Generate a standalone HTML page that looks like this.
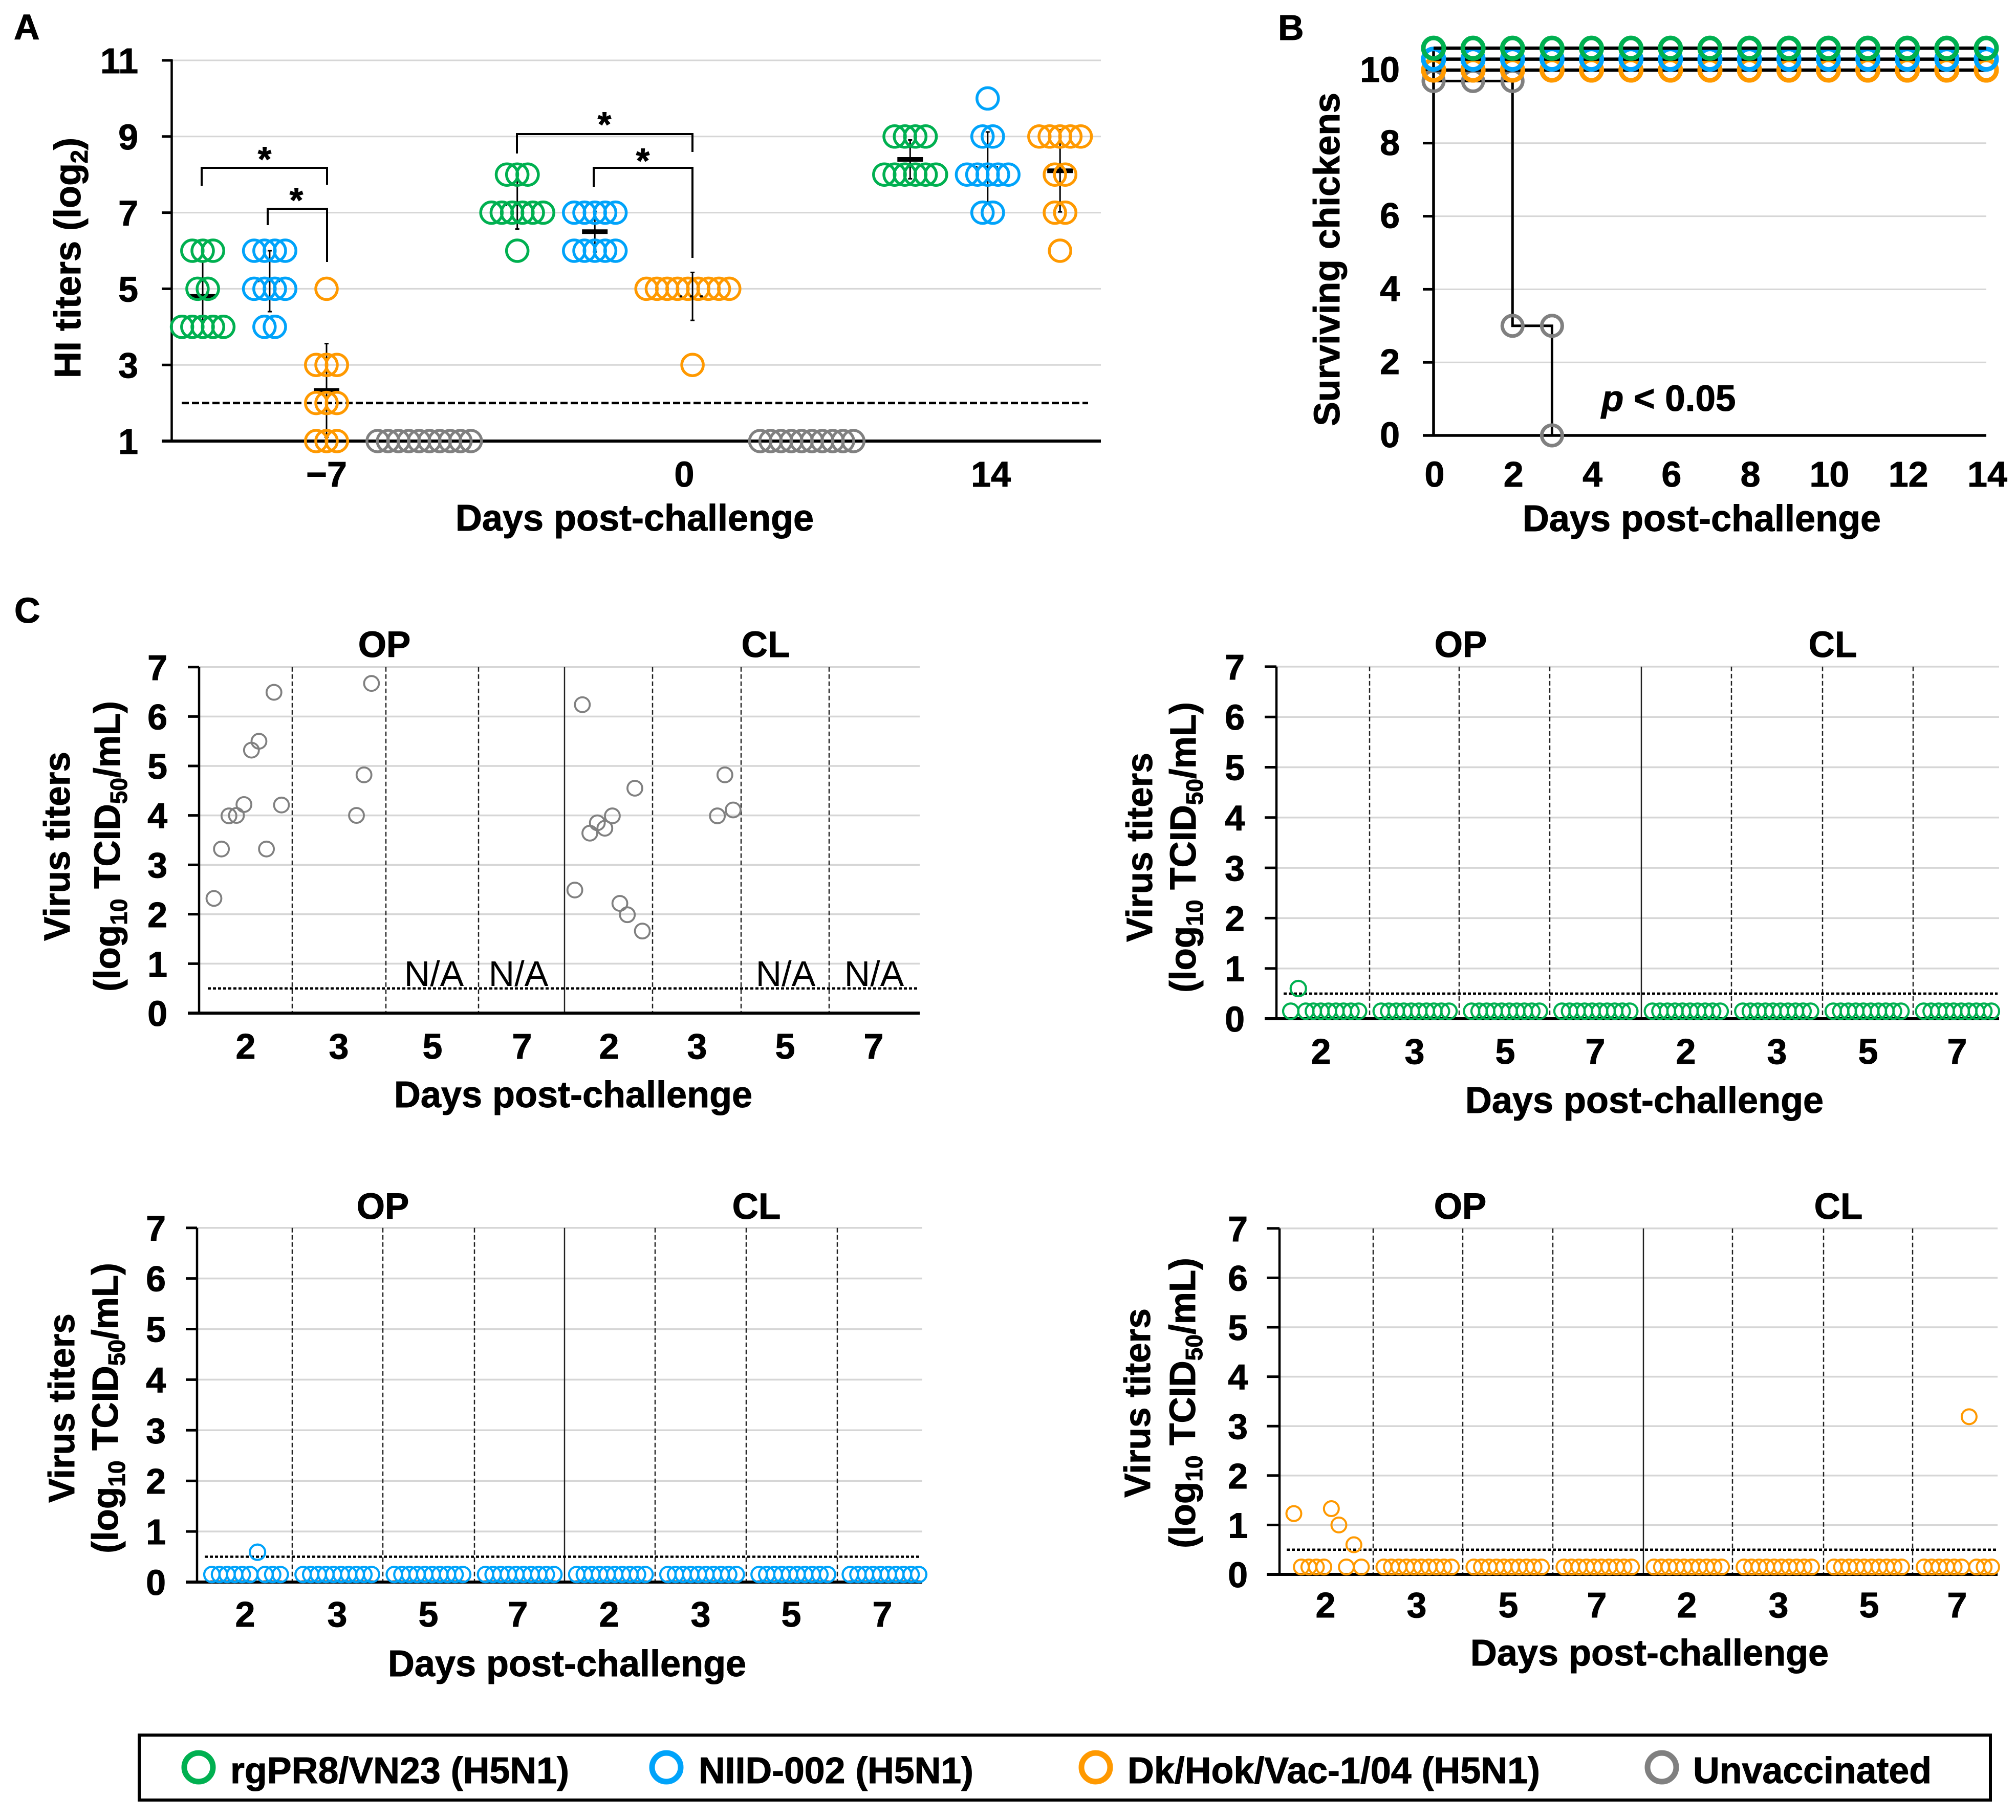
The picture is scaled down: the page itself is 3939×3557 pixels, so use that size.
<!DOCTYPE html>
<html lang="en">
<head>
<meta charset="utf-8">
<title>HI titers, survival and virus titers in chickens</title>
<style>
html,body{margin:0;padding:0;background:#fff;}
svg{display:block;font-family:"Liberation Sans",Arial,sans-serif;}
text[font-weight="bold"]{stroke:#000;stroke-width:1px;}
</style>
</head>
<body>
<svg id="figure" xmlns="http://www.w3.org/2000/svg" width="3939" height="3557" viewBox="0 0 3939 3557">
<rect width="3939" height="3557" fill="#ffffff"/>
</svg>
<script>
/* ---------- Panel A data: HI titers ---------- */
const hiTickLabels = [1, 3, 5, 7, 9, 11];
const hiDayLabels = ['\u22127', '0', '14'];
const hiDetectionLimit = 2;
const hiGroupSeries = ['green','blue','orange','gray','green','blue','orange','orange','gray','green','blue','orange'];
const hiGroupCenters = [3.07, 9.55, 15.05, 24.5, 33.5, 41, 50, 50.45, 61.5, 71.5, 79, 86];
const hiTiters = [
  [6,6,6,5,5,4,4,4,4,4],
  [6,6,6,6,5,5,5,5,4,4],
  [5,3,3,3,2,2,2,1,1,1],
  [1,1,1,1,1,1,1,1,1,1],
  [8,8,8,7,7,7,7,7,7,6],
  [7,7,7,7,7,6,6,6,6,6],
  [5,5,5,5,5,5,5,5,5],
  [3],
  [1,1,1,1,1,1,1,1,1,1],
  [9,9,9,9,8,8,8,8,8,8],
  [10,9,9,8,8,8,8,8,7,7],
  [9,9,9,9,9,8,8,7,7,6]
];
const hiMeans = [4.8, 5.2, 2.33, null, 7.2, 6.5, null, 4.8, null, 8.4, 8.2, 8.1];
const hiDeviations = [0.92, 0.8, 1.23, null, 0.63, 0.53, null, 0.63, null, 0.51, 0.92, 1.08];
const hiMeanCovered = [false, true, false, false, true, false, false, true, false, false, true, false];

/* ---------- Panel B data: survival ---------- */
const survivalDays = [0,1,2,3,4,5,6,7,8,9,10,11,12,13,14];
const survivalGreen = [10.6,10.6,10.6,10.6,10.6,10.6,10.6,10.6,10.6,10.6,10.6,10.6,10.6,10.6,10.6];
const survivalBlue = [10.3,10.3,10.3,10.3,10.3,10.3,10.3,10.3,10.3,10.3,10.3,10.3,10.3,10.3,10.3];
const survivalOrange = [10,10,10,10,10,10,10,10,10,10,10,10,10,10,10];
const survivalGrayDays = [0,1,2,2,3,3];
const survivalGray = [9.7,9.7,9.7,3,3,0];
const survivalTicksY = [0,2,4,6,8,10];
const survivalTicksX = [0,2,4,6,8,10,12,14];

/* ---------- Panel C data: virus titers ---------- */
const virusDayLabels = ['2','3','5','7','2','3','5','7'];
const virusTicksY = [0,1,2,3,4,5,6,7];
const virusLimit = 0.5;

const unvaccinatedSlots = [0,1,2,3,4,5,6,7,8,9, 19,20,21, 48.1,49.1,50.1,51.1,52.1,53.1,54.1,55.1,56.1,57.1, 67.1,68.1,69.2];
const unvaccinatedTiters = [2.32,3.32,3.99,4,4.22,5.32,5.5,3.32,6.49,4.21, 4,4.82,6.67, 2.49,6.24,3.64,3.85,3.74,3.99,2.22,1.99,4.55,1.66, 3.99,4.82,4.11];

const greenTiters = [
  [0.15,0.6,0.15,0.15,0.15,0.15,0.15,0.15,0.15,0.15],
  [0.15,0.15,0.15,0.15,0.15,0.15,0.15,0.15,0.15,0.15],
  [0.15,0.15,0.15,0.15,0.15,0.15,0.15,0.15,0.15,0.15],
  [0.15,0.15,0.15,0.15,0.15,0.15,0.15,0.15,0.15,0.15],
  [0.15,0.15,0.15,0.15,0.15,0.15,0.15,0.15,0.15,0.15],
  [0.15,0.15,0.15,0.15,0.15,0.15,0.15,0.15,0.15,0.15],
  [0.15,0.15,0.15,0.15,0.15,0.15,0.15,0.15,0.15,0.15],
  [0.15,0.15,0.15,0.15,0.15,0.15,0.15,0.15,0.15,0.15]
];
const blueTiters = [
  [0.15,0.15,0.15,0.15,0.15,0.15,0.59,0.15,0.15,0.15],
  [0.15,0.15,0.15,0.15,0.15,0.15,0.15,0.15,0.15,0.15],
  [0.15,0.15,0.15,0.15,0.15,0.15,0.15,0.15,0.15,0.15],
  [0.15,0.15,0.15,0.15,0.15,0.15,0.15,0.15,0.15,0.15],
  [0.15,0.15,0.15,0.15,0.15,0.15,0.15,0.15,0.15,0.15],
  [0.15,0.15,0.15,0.15,0.15,0.15,0.15,0.15,0.15,0.15],
  [0.15,0.15,0.15,0.15,0.15,0.15,0.15,0.15,0.15,0.15],
  [0.15,0.15,0.15,0.15,0.15,0.15,0.15,0.15,0.15,0.15]
];
const orangeTiters = [
  [1.23,0.15,0.15,0.15,0.15,1.33,1,0.15,0.6,0.15],
  [0.15,0.15,0.15,0.15,0.15,0.15,0.15,0.15,0.15,0.15],
  [0.15,0.15,0.15,0.15,0.15,0.15,0.15,0.15,0.15,0.15],
  [0.15,0.15,0.15,0.15,0.15,0.15,0.15,0.15,0.15,0.15],
  [0.15,0.15,0.15,0.15,0.15,0.15,0.15,0.15,0.15,0.15],
  [0.15,0.15,0.15,0.15,0.15,0.15,0.15,0.15,0.15,0.15],
  [0.15,0.15,0.15,0.15,0.15,0.15,0.15,0.15,0.15,0.15],
  [0.15,0.15,0.15,0.15,0.15,0.15,3.19,0.15,0.15,0.15]
];

/* ---------- Legend ---------- */
const legendLabels = ['rgPR8/VN23 (H5N1)','NIID-002 (H5N1)','Dk/Hok/Vac-1/04 (H5N1)','Unvaccinated'];
const legendSeries = ['green','blue','orange','gray'];

/* ---------- Rendering ---------- */
const SVGNS = 'http://www.w3.org/2000/svg';
const root = document.getElementById('figure');
const COLORS = {green:'#00B050', blue:'#00A3FA', orange:'#FF9900', gray:'#808080'};
const GRID = '#d6d6d6';
const TICK_SIZE = 70;
const TICK_DROP = 25;

function mk(tag, attrs, parent) {
  const el = document.createElementNS(SVGNS, tag);
  for (const k in attrs) el.setAttribute(k, attrs[k]);
  (parent || root).appendChild(el);
  return el;
}
function label(str, x, y, size, anchor, weight, parent) {
  const el = mk('text', {x:x, y:y, 'font-size':size, 'text-anchor':anchor || 'middle', 'font-weight':weight || 'bold', fill:'#000'}, parent);
  el.textContent = str;
  return el;
}
function subTitle(parent, x, y, size, before, sub, after) {
  const el = mk('text', {x:x, y:y, 'font-size':size, 'text-anchor':'middle', 'font-weight':'bold', fill:'#000', transform:'rotate(-90 '+x+' '+y+')'}, parent);
  const a = mk('tspan', {}, el); a.textContent = before;
  const s = mk('tspan', {'font-size':Math.round(size*0.65), dy:Math.round(size*0.2)}, el); s.textContent = sub;
  const b = mk('tspan', {dy:-Math.round(size*0.2)}, el); b.textContent = after;
  return el;
}

/* panel letters */
[['A',27,77],['B',2497,78],['C',28,1217]].forEach(function(p){
  const el = label(p[0], p[1], p[2], 70, 'start');
  
  
});

/* ===== Panel A ===== */
(function(){
  const g = mk('g', {});
  
  
  const y = v => 862 - (v - 1) * 74.4;
  const x = u => 334 + u * 20.2;
  const R = 21, SW = 5.5;

  hiTickLabels.forEach(function(t){
    if (t !== 1) {
      const gl = mk('line', {x1:336, x2:2151, y1:y(t), y2:y(t), stroke:GRID, 'stroke-width':3}, g);
      
      
    }
    const tk = mk('line', {x1:316, x2:336, y1:y(t), y2:y(t), stroke:'#000', 'stroke-width':5}, g);
    
    
    const tl = label(String(t), 270, y(t) + TICK_DROP, TICK_SIZE, 'end', 'bold', g);
    
    
  });
  const yAxis = mk('line', {x1:335.5, x2:335.5, y1:116, y2:862, stroke:'#000', 'stroke-width':4.5}, g);
  
  
  const xAxis = mk('line', {x1:316, x2:2151, y1:862, y2:862, stroke:'#000', 'stroke-width':6}, g);
  
  
  const lod = mk('line', {x1:355, x2:2126, y1:y(hiDetectionLimit), y2:y(hiDetectionLimit), stroke:'#000', 'stroke-width':5, 'stroke-dasharray':'14 6'}, g);
  
  

  hiGroupCenters.forEach(function(center, i){
    const cx = x(center);
    const m = hiMeans[i];
    if (m !== null) {
      const sd = hiDeviations[i];
      const eb = mk('line', {x1:cx, x2:cx, y1:y(m - sd), y2:y(m + sd), stroke:'#000', 'stroke-width':3}, g);
      
      
      const capA = mk('line', {x1:cx - 4, x2:cx + 4, y1:y(m + sd), y2:y(m + sd), stroke:'#000', 'stroke-width':3}, g);
      
      
      const capB = mk('line', {x1:cx - 4, x2:cx + 4, y1:y(m - sd), y2:y(m - sd), stroke:'#000', 'stroke-width':3}, g);
      
      
      const covered = hiMeanCovered[i];
      const mb = mk('line', {x1:cx - 25, x2:cx + 25, y1:y(m), y2:y(m), stroke:'#000', 'stroke-width': covered ? 4 : 9, 'stroke-dasharray': covered ? '5 15' : 'none'}, g);
      
      
    }
    const rows = {};
    hiTiters[i].forEach(v => { rows[v] = (rows[v] || 0) + 1; });
    Object.keys(rows).forEach(function(key){
      const v = Number(key), n = rows[key];
      for (let k = 0; k < n; k++) {
        const c = mk('circle', {cx:x(center + k - (n - 1) / 2), cy:y(v), r:R, fill:'none', stroke:COLORS[hiGroupSeries[i]], 'stroke-width':SW}, g);
        
        
      }
    });
  });

  [[638, 0],[1337, 1],[1936, 2]].forEach(function(p){
    const t = label(hiDayLabels[p[1]], p[0], 951, TICK_SIZE, 'middle', 'bold', g);
    
    
  });
  const xt = label('Days post-challenge', 1240, 1037, 72, 'middle', 'bold', g);
  
  
  const yt = subTitle(g, 157, 504, 72, 'HI titers (log', '2', ')');
  
  

  [[394,639,328,363,361,517,299],[523,639,408,440,512,579,379],[1010,1353,262,300,297,1181,231],[1160,1353,328,365,504,1256,302]].forEach(function(b, i){
    const br = mk('path', {d:'M'+b[0]+' '+b[3]+'V'+b[2]+'H'+b[1]+'V'+b[4], fill:'none', stroke:'#000', 'stroke-width':4}, g);
    
    
    const st = label('*', b[5], b[6] + 35, 68, 'middle', 'bold', g);
    
    
  });
})();

/* ===== Panel B ===== */
(function(){
  const g = mk('g', {});
  
  
  const x = d => 2801 + d * 77.14;
  const y = v => 851 - v * 71.4;

  survivalTicksY.forEach(function(t){
    if (t !== 0 && t !== 10) {
      const gl = mk('line', {x1:2801, x2:3881, y1:y(t), y2:y(t), stroke:GRID, 'stroke-width':3}, g);
      
      
    }
    const tk = mk('line', {x1:2780, x2:2801, y1:y(t), y2:y(t), stroke:'#000', 'stroke-width':5}, g);
    
    
    const tl = label(String(t), 2735, y(t) + TICK_DROP - 2, TICK_SIZE, 'end', 'bold', g);
    
    
  });
  survivalTicksX.forEach(function(t){
    const tl = label(String(t), x(t) + 2, 951, TICK_SIZE, 'middle', 'bold', g);
    
    
  });
  const xAxis = mk('line', {x1:2780, x2:3881, y1:y(0), y2:y(0), stroke:'#000', 'stroke-width':5.5}, g);
  
  
  const yAxis = mk('line', {x1:2801, x2:2801, y1:y(0), y2:97, stroke:'#000', 'stroke-width':5.5}, g);
  
  

  const grayPts = survivalGrayDays.map((d, i) => x(d) + ',' + y(survivalGray[i])).join(' ');
  const grayLine = mk('polyline', {points:grayPts, fill:'none', stroke:'#000', 'stroke-width':5}, g);
  
  
  survivalGrayDays.forEach(function(d, i){
    const c = mk('circle', {cx:x(d), cy:y(survivalGray[i]), r:20, fill:'none', stroke:COLORS.gray, 'stroke-width':7}, g);
    
    
  });
  [['orange', survivalOrange],['blue', survivalBlue],['green', survivalGreen]].forEach(function(s){
    const pts = survivalDays.map((d, i) => x(d) + ',' + y(s[1][i])).join(' ');
    const ln = mk('polyline', {points:pts, fill:'none', stroke:'#000', 'stroke-width':6.5}, g);
    
    
    survivalDays.forEach(function(d, i){
      const c = mk('circle', {cx:x(d), cy:y(s[1][i]), r:20, fill:'none', stroke:COLORS[s[0]], 'stroke-width':9}, g);
      
      
    });
  });

  const xt = label('Days post-challenge', 3325, 1038, 72, 'middle', 'bold', g);
  
  
  const yt = label('Surviving chickens', 2617, 507, 71.5, 'middle', 'bold', g);
  yt.setAttribute('transform', 'rotate(-90 2617 507)');
  
  
  const pv = mk('text', {x:3129, y:803, 'font-size':71, 'font-weight':'bold', fill:'#000'}, g);
  
  
  const pi = mk('tspan', {'font-style':'italic'}, pv); pi.textContent = 'p';
  const pr = mk('tspan', {}, pv); pr.textContent = ' < 0.05';
})();

/* ===== Panel C ===== */
function virusPanel(cfg) {
  const g = mk('g', {});
  
  
  const y = v => cfg.y0 - v * cfg.unit;
  const x = s => cfg.slot0 + s * cfg.step;

  virusTicksY.forEach(function(t){
    if (t !== 0) {
      const gl = mk('line', {x1:cfg.axisX, x2:cfg.right, y1:y(t), y2:y(t), stroke:GRID, 'stroke-width':3.5}, g);
      
      
    }
    const tk = mk('line', {x1:cfg.tickX, x2:cfg.axisX, y1:y(t), y2:y(t), stroke:'#000', 'stroke-width':5}, g);
    
    
    const tl = label(String(t), cfg.tickRight, y(t) + TICK_DROP, TICK_SIZE, 'end', 'bold', g);
    
    
  });
  cfg.dividers.forEach(function(dx, i){
    const solid = i === 3;
    const d = mk('line', {x1:dx, x2:dx, y1:y(7), y2:y(0), stroke:'#222', 'stroke-width': 2.5, 'stroke-dasharray': solid ? 'none' : '9 5'}, g);
    
    
  });
  const lod = mk('line', {x1:cfg.lodLeft, x2:cfg.lodRight, y1:y(virusLimit), y2:y(virusLimit), stroke:'#000', 'stroke-width':4.5, 'stroke-dasharray':'6 4'}, g);
  
  
  const yAxis = mk('line', {x1:cfg.axisX, x2:cfg.axisX, y1:y(7), y2:y(0), stroke:'#000', 'stroke-width':4.5}, g);
  
  
  const xAxis = mk('line', {x1:cfg.tickX, x2:cfg.right, y1:y(0), y2:y(0), stroke:'#000', 'stroke-width':6}, g);
  
  

  if (cfg.slots) {
    cfg.slots.forEach(function(s, i){
      const c = mk('circle', {cx:x(s), cy:y(cfg.values[i]), r:cfg.r, fill:'none', stroke:COLORS[cfg.series], 'stroke-width':cfg.sw}, g);
      
      
    });
  } else {
    cfg.values.forEach(function(day, c0){
      day.forEach(function(v, s){
        const c = mk('circle', {cx:x(c0 * 12 + s), cy:y(v), r:cfg.r, fill:'none', stroke:COLORS[cfg.series], 'stroke-width':cfg.sw}, g);
        
        
      });
    });
  }

  cfg.labelX.forEach(function(lx, i){
    const t = label(virusDayLabels[i], lx, cfg.labelY, TICK_SIZE, 'middle', 'bold', g);
    
    
  });
  (cfg.naX || []).forEach(function(nx){
    const t = label('N/A', nx, cfg.naY, 70, 'middle', 'normal', g);
    
    
  });
  const op = label('OP', cfg.opX, cfg.headY, 71, 'middle', 'bold', g);
  
  
  const cl = label('CL', cfg.clX, cfg.headY, 71, 'middle', 'bold', g);
  
  
  const xt = label('Days post-challenge', cfg.titleX, cfg.titleY, 72, 'middle', 'bold', g);
  
  
  const y1 = label('Virus titers', cfg.yt1, cfg.ytC, 71, 'middle', 'bold', g);
  y1.setAttribute('transform', 'rotate(-90 ' + cfg.yt1 + ' ' + cfg.ytC + ')');
  
  
  const y2 = subTitle(g, cfg.yt2, cfg.ytC, 71, '(log', '10', ' TCID');
  
  
  const s2 = mk('tspan', {'font-size':46, dy:14}, y2); s2.textContent = '50';
  const e2 = mk('tspan', {dy:-14}, y2); e2.textContent = '/mL)';
}

virusPanel({name:'virus-titer-chart-unvaccinated', series:'gray', slots:unvaccinatedSlots, values:unvaccinatedTiters,
  y0:1980, unit:96.6, axisX:389, tickX:367, right:1797, tickRight:327,
  slot0:418, step:14.66, r:14.5, sw:3.8,
  dividers:[571,754,935,1103,1275,1448,1620], lodLeft:406, lodRight:1793,
  labelX:[480,662,845,1020,1190,1362,1534,1707], labelY:2069,
  naX:[848,1013,1535,1708], naY:1927,
  opX:751, clX:1496, headY:1284, titleX:1120, titleY:2164, yt1:136, yt2:234, ytC:1654});

virusPanel({name:'virus-titer-chart-rgpr8', series:'green', values:greenTiters,
  y0:1991, unit:98.3, axisX:2494, tickX:2471, right:3906, tickRight:2432,
  slot0:2522, step:14.72, r:15, sw:4.2,
  dividers:[2676,2851,3028,3207,3383,3561,3738], lodLeft:2508, lodRight:3903,
  labelX:[2581,2764,2941,3117,3294,3472,3650,3824], labelY:2079,
  opX:2854, clX:3581, headY:1284, titleX:3213, titleY:2175, yt1:2251, yt2:2336, ytC:1656});

virusPanel({name:'virus-titer-chart-niid', series:'blue', values:blueTiters,
  y0:3092, unit:98.9, axisX:385, tickX:363, right:1802, tickRight:324,
  slot0:414, step:14.85, r:15, sw:4.2,
  dividers:[571,748,927,1103,1280,1458,1636], lodLeft:400, lodRight:1799,
  labelX:[479,659,837,1012,1190,1369,1546,1724], labelY:3179,
  opX:748, clX:1478, headY:2382, titleX:1108, titleY:3276, yt1:145, yt2:230, ytC:2752});

virusPanel({name:'virus-titer-chart-dk-hok', series:'orange', values:orangeTiters,
  y0:3077, unit:96.6, axisX:2500, tickX:2475, right:3903, tickRight:2438,
  slot0:2528, step:14.66, r:14.5, sw:4,
  dividers:[2683,2858,3034,3211,3385,3563,3737], lodLeft:2514, lodRight:3900,
  labelX:[2590,2768,2947,3120,3296,3475,3652,3824], labelY:3161,
  opX:2853, clX:3592, headY:2382, titleX:3223, titleY:3255, yt1:2247, yt2:2335, ytC:2742});

/* ===== Legend ===== */
(function(){
  const g = mk('g', {});
  
  
  const box = mk('rect', {x:272, y:3391, width:3617, height:127, fill:'#fff', stroke:'#000', 'stroke-width':6}, g);
  
  
  const markerX = [388, 1302, 2141, 3247];
  const textX = [450, 1365, 2203, 3308];
  const textW = [662, 537, 806, 466];
  legendLabels.forEach(function(lbl, i){
    const c = mk('circle', {cx:markerX[i], cy:3454, r:28, fill:'none', stroke:COLORS[legendSeries[i]], 'stroke-width':11}, g);
    
    
    const t = label(lbl, textX[i], 3485, 72, 'start', 'bold', g);
    t.setAttribute('textLength', textW[i]);
    t.setAttribute('lengthAdjust', 'spacingAndGlyphs');
    
    
  });
})();
</script>
</body>
</html>
